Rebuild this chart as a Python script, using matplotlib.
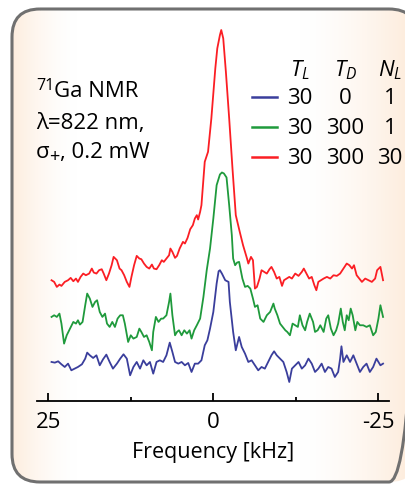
import numpy as np
import matplotlib.pyplot as plt
from matplotlib.patches import FancyBboxPatch

plt.rcParams['font.family'] = ['Open Sans', 'DejaVu Sans']
plt.rcParams['mathtext.fontset'] = 'custom'
plt.rcParams['mathtext.rm'] = 'Open Sans'
plt.rcParams['mathtext.it'] = 'Open Sans:italic'

# data (frequency in kHz, intensity in a.u.)
freq_blue = [24.5, 24.0, 23.5, 23.0, 22.5, 22.0, 21.5, 21.0, 20.5, 19.9, 19.4, 19.1, 18.7, 18.2, 17.7,
             17.2, 16.7, 16.2, 15.7, 15.2, 14.6, 14.1, 13.6, 13.1, 12.6, 12.1, 11.6, 11.1, 10.6, 10.1,
             9.6, 9.1, 8.6, 8.1, 7.6, 7.1, 6.6, 6.2, 5.8, 5.3, 4.8, 4.3, 3.8, 3.3, 2.8, 2.3, 1.8, 1.3,
             0.9, 0.5, 0.0, -0.5, -0.8, -1.0, -1.3, -1.8, -2.3, -2.5, -3.0, -3.4, -3.9, -4.3, -4.8,
             -5.3, -5.8, -6.3, -6.8, -7.3, -7.8, -8.3, -8.8, -9.2, -9.6, -10.1, -10.6, -11.1, -11.5,
             -11.9, -12.4, -12.9, -13.4, -13.9, -14.4, -14.9, -15.4, -15.9, -16.4, -16.9, -17.4,
             -17.9, -18.4, -18.9, -19.2, -19.4, -19.7, -20.2, -20.7, -21.2, -21.7, -22.2, -22.7,
             -23.2, -23.7, -24.2, -24.7, -25.3, -25.7]
int_blue = [11.0, 10.8, 11.2, 10.3, 9.5, 10.5, 8.5, 9.0, 9.5, 10.3, 12.0, 13.8, 13.0, 12.2, 13.0,
            10.0, 11.8, 13.2, 11.0, 9.0, 10.5, 12.0, 13.3, 12.0, 7.0, 9.5, 11.0, 9.0, 11.5, 10.0,
            11.0, 7.5, 11.0, 11.5, 11.0, 13.0, 16.8, 14.0, 11.0, 10.5, 11.0, 10.0, 10.7, 8.0, 10.5,
            10.5, 11.5, 16.0, 17.5, 21.0, 26.0, 34.5, 38.2, 38.5, 37.5, 35.5, 35.0, 29.0, 20.0,
            14.5, 18.5, 15.5, 13.5, 11.0, 11.5, 10.0, 8.5, 9.5, 9.0, 11.0, 13.0, 14.2, 13.0, 12.0,
            11.0, 8.0, 5.0, 9.0, 10.0, 11.0, 9.0, 10.0, 12.0, 10.5, 8.0, 9.0, 10.5, 8.0, 9.5, 9.0,
            6.5, 8.0, 12.0, 15.7, 11.0, 13.0, 11.0, 13.0, 10.5, 8.0, 9.5, 10.5, 8.0, 9.5, 12.0,
            10.0, 10.5]

freq_green = [24.5, 24.1, 23.7, 23.3, 23.0, 22.6, 22.2, 21.7, 21.2, 20.8, 20.5, 20.2, 19.8, 19.4,
              19.1, 18.7, 18.3, 17.9, 17.6, 17.2, 16.8, 16.4, 16.1, 15.7, 15.3, 14.9, 14.5, 14.1,
              13.7, 13.4, 12.9, 12.5, 12.1, 11.6, 11.2, 10.9, 10.5, 10.1, 9.7, 9.3, 9.1, 8.7, 8.3,
              7.9, 7.6, 7.1, 6.7, 6.5, 6.2, 5.8, 5.5, 5.2, 4.8, 4.4, 4.0, 3.6, 3.3, 2.9, 2.5, 2.0,
              1.5, 1.0, 0.5, 0.0, -0.5, -1.0, -1.3, -1.6, -2.0, -2.4, -2.8, -3.0, -3.3, -3.6, -3.9,
              -4.1, -4.4, -4.8, -5.2, -5.6, -6.0, -6.3, -6.7, -7.1, -7.6, -8.1, -8.6, -9.1, -9.3,
              -9.7, -10.1, -10.5, -10.9, -11.2, -11.6, -12.0, -12.4, -12.8, -13.1, -13.5, -13.9,
              -14.2, -14.6, -15.1, -15.4, -15.8, -16.2, -16.7, -17.1, -17.4, -17.8, -18.2, -18.6,
              -18.9, -19.3, -19.6, -19.9, -20.2, -20.5, -20.8, -21.1, -21.5, -21.8, -22.2, -22.7,
              -23.2, -23.7, -24.2, -24.6, -25.0, -25.3, -25.7]
int_green = [24.5, 25.0, 24.5, 25.5, 22.5, 16.5, 19.0, 21.0, 23.0, 22.5, 23.5, 22.2, 23.0, 28.0,
             31.5, 30.0, 27.5, 29.0, 29.5, 26.0, 24.5, 25.5, 22.5, 21.5, 23.0, 21.5, 24.0, 25.0,
             25.0, 22.5, 17.0, 19.0, 18.0, 18.5, 21.0, 20.0, 18.5, 19.0, 17.0, 14.5, 20.0, 24.5,
             23.0, 24.0, 24.0, 25.0, 29.0, 31.5, 25.0, 19.0, 20.0, 20.5, 19.0, 20.5, 19.5, 20.5,
             18.0, 20.5, 22.0, 24.0, 30.5, 38.5, 45.0, 54.0, 64.0, 67.2, 67.8, 67.5, 66.3, 58.0,
             49.0, 42.0, 40.0, 40.8, 41.0, 39.0, 36.0, 33.5, 33.8, 33.0, 30.0, 27.5, 28.0, 24.0,
             23.0, 25.0, 26.0, 28.5, 27.0, 25.0, 22.5, 21.5, 20.5, 20.0, 19.0, 22.5, 22.0, 21.5,
             25.0, 22.0, 20.5, 23.0, 25.5, 23.0, 20.0, 20.5, 22.0, 20.0, 24.0, 25.0, 21.0, 19.0,
             20.5, 22.5, 27.0, 23.0, 20.5, 25.0, 23.5, 27.0, 25.0, 20.5, 23.0, 22.0, 22.0, 21.5,
             22.0, 19.0, 20.0, 24.0, 28.0, 24.5]

freq_red = [24.5, 24.1, 23.7, 23.3, 23.0, 22.5, 22.0, 21.6, 21.2, 20.8, 20.5, 20.1, 19.7, 19.3,
            18.8, 18.4, 18.1, 17.7, 17.3, 16.9, 16.6, 16.2, 15.8, 15.4, 15.1, 14.6, 14.2, 13.9,
            13.5, 13.1, 12.7, 12.4, 12.0, 11.6, 11.2, 10.9, 10.5, 10.1, 9.7, 9.3, 9.0, 8.6, 8.2,
            7.8, 7.5, 7.1, 6.7, 6.5, 6.2, 5.8, 5.5, 5.1, 4.6, 4.3, 3.9, 3.5, 3.1, 2.8, 2.5, 2.3,
            2.0, 1.8, 1.3, 0.8, 0.3, -0.3, -0.6, -1.0, -1.2, -1.5, -1.9, -2.4, -2.9, -3.4, -4.0,
            -4.5, -5.1, -5.3, -5.7, -6.0, -6.3, -6.6, -7.0, -7.3, -7.7, -8.1, -8.5, -8.8, -9.2,
            -9.6, -10.0, -10.4, -10.7, -11.1, -11.5, -11.9, -12.4, -12.9, -13.4, -13.7, -14.1,
            -14.5, -14.9, -15.3, -15.6, -15.9, -16.3, -16.7, -17.2, -17.7, -18.2, -18.7, -19.2,
            -19.7, -20.2, -20.6, -21.0, -21.3, -21.7, -22.1, -22.5, -23.0, -23.5, -24.0, -24.5,
            -24.8, -25.3, -25.7]
int_red = [35.5, 35.0, 33.5, 34.2, 33.8, 35.0, 35.5, 36.2, 35.2, 36.0, 35.0, 36.5, 37.5, 37.0,
           37.5, 39.0, 37.8, 37.5, 38.5, 38.8, 37.5, 35.5, 37.5, 40.0, 42.5, 41.5, 39.0, 38.5,
           37.0, 35.0, 33.5, 36.5, 40.0, 42.8, 42.0, 41.8, 40.5, 39.5, 39.0, 40.2, 39.0, 38.8,
           40.0, 41.5, 41.0, 42.0, 43.0, 45.0, 44.0, 42.2, 42.8, 45.0, 47.0, 46.5, 48.2, 50.8,
           52.0, 54.0, 55.0, 53.7, 56.0, 58.0, 71.0, 74.0, 84.0, 99.0, 105.0, 109.0, 110.5, 108.0,
           98.0, 84.0, 69.0, 55.0, 50.0, 46.0, 42.0, 40.5, 42.5, 41.5, 33.0, 33.5, 36.0, 38.5,
           38.0, 37.5, 38.8, 39.5, 38.0, 36.0, 36.5, 33.8, 35.5, 36.0, 36.5, 36.0, 37.5, 36.8,
           38.0, 39.0, 37.5, 36.0, 36.5, 34.0, 32.5, 35.0, 35.5, 36.0, 36.5, 36.0, 37.0, 36.8,
           37.5, 39.0, 40.5, 40.0, 39.0, 40.0, 37.0, 36.0, 35.0, 36.0, 35.5, 35.0, 36.0, 38.5,
           39.5, 35.5]

legend_header = ['$T_L$', '$T_D$', '$N_L$']
legend_rows = [['30', '0', '1'], ['30', '300', '1'], ['30', '300', '30']]
colors = ['#3a3e9c', '#1f9a3c', '#fb1e24']

fig = plt.figure(figsize=(4.06, 4.85), dpi=100)
renderer = fig.canvas.get_renderer()

# background panel (pixel coordinates)
bg = fig.add_axes([0, 0, 1, 1])
bg.set_xlim(0, 406)
bg.set_ylim(485, 0)
bg.axis('off')
panel = FancyBboxPatch((12, 10), 405, 473, boxstyle='round,pad=0,rounding_size=28',
                       facecolor='none', edgecolor='#707070', linewidth=2.2, zorder=3)
bg.add_patch(panel)
xx = np.linspace(0, 1, 406)
w = np.clip(1 - (xx - 12 / 406) / 0.16, 0, 1) ** 1.6 + np.clip((xx - 0.74) / 0.26, 0, 1) ** 1.5
w = np.clip(w, 0, 1)
peach = np.array([253, 237, 222]) / 255
img = np.ones((2, 406, 3)) * (1 - w[None, :, None]) + peach[None, None, :] * w[None, :, None]
im = bg.imshow(img, extent=(0, 406, 485, 0), aspect='auto', zorder=1)
im.set_clip_path(panel)


def put_pieces(x, y, pieces):
    # pieces: (text, fontsize, dy); placed one after another
    for s, fs, dy in pieces:
        t = bg.text(x, y + dy, s, fontsize=fs, ha='left', va='baseline', zorder=5)
        bb = t.get_window_extent(renderer)
        x += bb.width


put_pieces(36, 97, [('71', 11.5, -7), ('Ga NMR', 16, 0)])
put_pieces(36, 129, [('λ=822 nm,', 16, 0)])
put_pieces(36, 158, [('σ', 16, 0), ('+', 13, 4), (', 0.2 mW', 16, 0)])

col_x = [300, 345, 390]
for j, h in enumerate(legend_header):
    bg.text(col_x[j], 70, h, fontsize=16, ha='center', va='center', zorder=5)
for i, row in enumerate(legend_rows):
    y = 98 + i * 30
    bg.plot([252, 277], [y, y], color=colors[i], lw=1.8, zorder=5)
    for j, v in enumerate(row):
        bg.text(col_x[j], y + 1, v, fontsize=16, ha='center', va='center', zorder=5)

# spectra
ax = fig.add_axes([37 / 406, 83 / 485, 352 / 406, 396 / 485])
ax.patch.set_alpha(0)
ax.plot(freq_blue, int_blue, color=colors[0], lw=1.3)
ax.plot(freq_green, int_green, color=colors[1], lw=1.3)
ax.plot(freq_red, int_red, color=colors[2], lw=1.3)
ax.set_xlim(26.7, -26.6)
ax.set_ylim(-0.7, 118)
for s in ['top', 'left', 'right']:
    ax.spines[s].set_visible(False)
ax.spines['bottom'].set_linewidth(1.3)
ax.set_yticks([])
ax.set_xticks([25, 0, -25])
ax.set_xticklabels(['25', '0', '-25'])
ax.set_xticks([12.5, -12.5], minor=True)
ax.tick_params(axis='x', which='major', direction='in', length=5.5, width=1.3, labelsize=16, pad=7)
ax.tick_params(axis='x', which='minor', direction='in', length=3, width=1.3)
ax.set_xlabel('Frequency [kHz]', fontsize=15.5, labelpad=7)

fig.savefig('out.png', dpi=100)
